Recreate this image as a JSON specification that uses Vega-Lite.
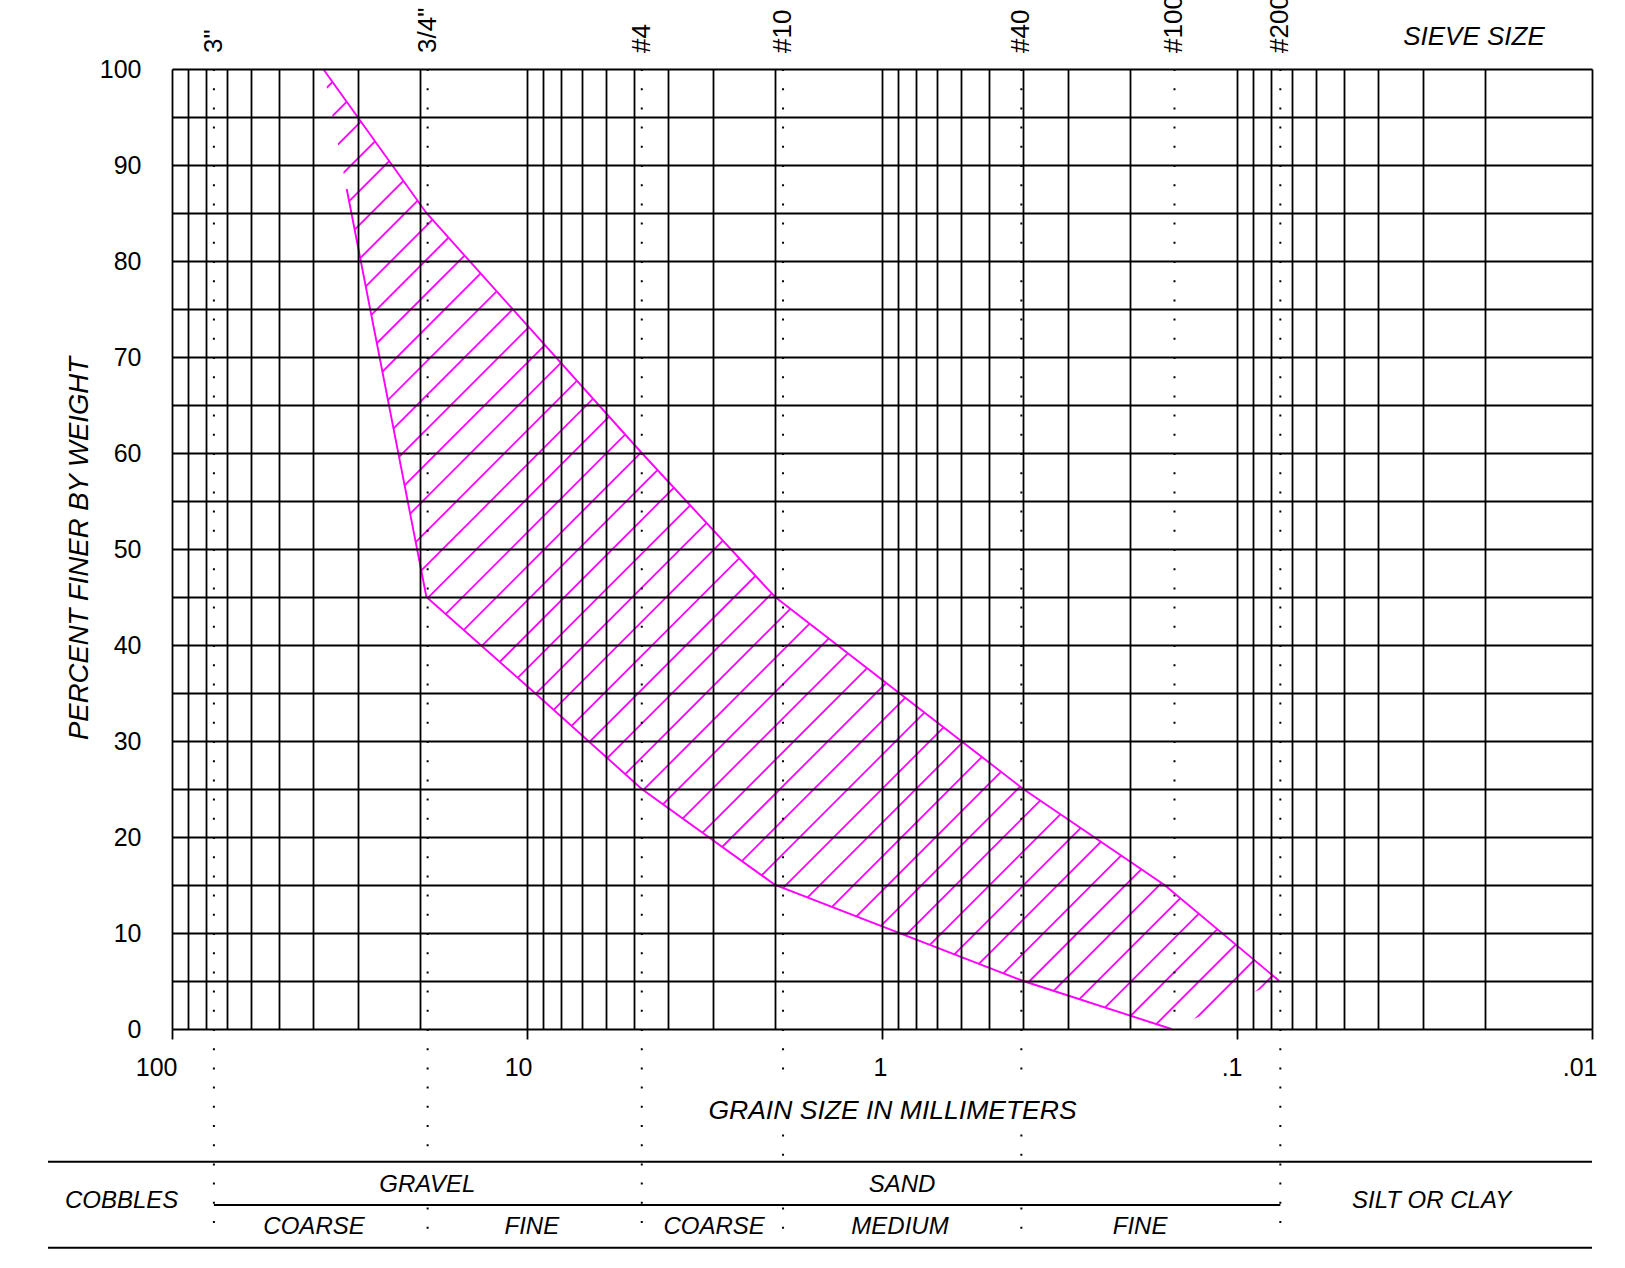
{
  "$schema": "https://vega.github.io/schema/vega-lite/v6.json",
  "width": 1420,
  "height": 960,
  "autosize": {"type": "none"},
  "padding": {"left": 172, "top": 69, "right": 33, "bottom": 239},
  "background": "white",
  "config": {"view": {"stroke": null}, "font": "Liberation Sans", "text": {"font": "Liberation Sans", "color": "#000"}},
  "datasets": {
    "hatch": [
      {"mm":100,"mm2":0.01,"p":81.93,"p2":229.85},{"mm":100,"mm2":0.01,"p":78.39,"p2":226.31},{"mm":100,"mm2":0.01,"p":74.85,"p2":222.77},{"mm":100,"mm2":0.01,"p":71.32,"p2":219.24},
      {"mm":100,"mm2":0.01,"p":67.78,"p2":215.70},{"mm":100,"mm2":0.01,"p":64.24,"p2":212.16},{"mm":100,"mm2":0.01,"p":60.70,"p2":208.62},{"mm":100,"mm2":0.01,"p":57.17,"p2":205.09},
      {"mm":100,"mm2":0.01,"p":53.63,"p2":201.55},{"mm":100,"mm2":0.01,"p":50.09,"p2":198.01},{"mm":100,"mm2":0.01,"p":46.55,"p2":194.47},{"mm":100,"mm2":0.01,"p":43.02,"p2":190.94},
      {"mm":100,"mm2":0.01,"p":39.48,"p2":187.40},{"mm":100,"mm2":0.01,"p":35.94,"p2":183.86},{"mm":100,"mm2":0.01,"p":32.40,"p2":180.32},{"mm":100,"mm2":0.01,"p":28.87,"p2":176.79},
      {"mm":100,"mm2":0.01,"p":25.33,"p2":173.25},{"mm":100,"mm2":0.01,"p":21.79,"p2":169.71},{"mm":100,"mm2":0.01,"p":18.25,"p2":166.17},{"mm":100,"mm2":0.01,"p":14.72,"p2":162.64},
      {"mm":100,"mm2":0.01,"p":11.18,"p2":159.10},{"mm":100,"mm2":0.01,"p":7.64,"p2":155.56},{"mm":100,"mm2":0.01,"p":4.10,"p2":152.02},{"mm":100,"mm2":0.01,"p":0.57,"p2":148.49},
      {"mm":100,"mm2":0.01,"p":-2.97,"p2":144.95},{"mm":100,"mm2":0.01,"p":-6.51,"p2":141.41},{"mm":100,"mm2":0.01,"p":-10.05,"p2":137.87},{"mm":100,"mm2":0.01,"p":-13.58,"p2":134.34},
      {"mm":100,"mm2":0.01,"p":-17.12,"p2":130.80},{"mm":100,"mm2":0.01,"p":-20.66,"p2":127.26},{"mm":100,"mm2":0.01,"p":-24.20,"p2":123.72},{"mm":100,"mm2":0.01,"p":-27.73,"p2":120.19},
      {"mm":100,"mm2":0.01,"p":-31.27,"p2":116.65},{"mm":100,"mm2":0.01,"p":-34.81,"p2":113.11},{"mm":100,"mm2":0.01,"p":-38.35,"p2":109.57},{"mm":100,"mm2":0.01,"p":-41.88,"p2":106.04},
      {"mm":100,"mm2":0.01,"p":-45.42,"p2":102.50},{"mm":100,"mm2":0.01,"p":-48.96,"p2":98.96},{"mm":100,"mm2":0.01,"p":-52.50,"p2":95.42},{"mm":100,"mm2":0.01,"p":-56.03,"p2":91.89},
      {"mm":100,"mm2":0.01,"p":-59.57,"p2":88.35},{"mm":100,"mm2":0.01,"p":-63.11,"p2":84.81},{"mm":100,"mm2":0.01,"p":-66.65,"p2":81.27},{"mm":100,"mm2":0.01,"p":-70.18,"p2":77.74},
      {"mm":100,"mm2":0.01,"p":-73.72,"p2":74.20},{"mm":100,"mm2":0.01,"p":-77.26,"p2":70.66},{"mm":100,"mm2":0.01,"p":-80.80,"p2":67.12},{"mm":100,"mm2":0.01,"p":-84.34,"p2":63.58},
      {"mm":100,"mm2":0.01,"p":-87.87,"p2":60.05},{"mm":100,"mm2":0.01,"p":-91.41,"p2":56.51},{"mm":100,"mm2":0.01,"p":-94.95,"p2":52.97},{"mm":100,"mm2":0.01,"p":-98.49,"p2":49.43},
      {"mm":100,"mm2":0.01,"p":-102.02,"p2":45.90},{"mm":100,"mm2":0.01,"p":-105.56,"p2":42.36},{"mm":100,"mm2":0.01,"p":-109.10,"p2":38.82}
    ],
    "lowerMask": [
      {"mm":100,"p":100,"p2":0},{"mm":37.5,"p":100,"p2":0},{"mm":19.2,"p":45,"p2":0},{"mm":9.5,"p":35,"p2":0},{"mm":4.75,"p":25,"p2":0},
      {"mm":2,"p":15,"p2":0},{"mm":0.4,"p":5,"p2":0},{"mm":0.153,"p":0,"p2":0},{"mm":0.076,"p":5,"p2":0}
    ],
    "upperMask": [
      {"mm":37.5,"p":100,"p2":100},{"mm":19.2,"p":85,"p2":100},{"mm":4.75,"p":60,"p2":100},{"mm":2,"p":45,"p2":100},{"mm":0.4,"p":25,"p2":100},
      {"mm":0.16,"p":15,"p2":100},{"mm":0.076,"p":5,"p2":100}
    ],
    "rightMask": [
      {"mm":0.0775,"mm2":0.01,"p":0,"p2":100}
    ],
    "upper": [
      {"mm":37.5,"p":100},{"mm":19.2,"p":85},{"mm":4.75,"p":60},{"mm":2,"p":45},{"mm":0.4,"p":25},
      {"mm":0.16,"p":15},{"mm":0.076,"p":5}
    ],
    "lower": [
      {"mm":32.2,"p":87.5},{"mm":19.2,"p":45},{"mm":9.5,"p":35},{"mm":4.75,"p":25},{"mm":2,"p":15},
      {"mm":0.4,"p":5},{"mm":0.153,"p":0}
    ],
    "sieveLines": [
      {"mm":76.2,"p":100,"p2":-20.8},
      {"mm":19.05,"p":100,"p2":-13.5},{"mm":19.05,"p":-18.6,"p2":-20.8},
      {"mm":4.75,"p":100,"p2":-20.8},
      {"mm":1.9,"p":100,"p2":-5.0},{"mm":1.9,"p":-11.0,"p2":-13.5},{"mm":1.9,"p":-18.6,"p2":-20.8},
      {"mm":0.405,"p":100,"p2":-5.0},{"mm":0.405,"p":-11.0,"p2":-13.5},{"mm":0.405,"p":-18.6,"p2":-20.8},
      {"mm":0.15,"p":100,"p2":0},
      {"mm":0.0755,"p":100,"p2":-20.8}
    ],
    "sieveLabels": [
      {"t":"3\"","mm":76.2,"p":101.67},{"t":"3/4\"","mm":19.05,"p":101.67},{"t":"#4","mm":4.75,"p":101.67},{"t":"#10","mm":1.9,"p":101.67},
      {"t":"#40","mm":0.405,"p":101.67},{"t":"#100","mm":0.15,"p":101.67},{"t":"#200","mm":0.0755,"p":101.67}
    ],
    "tableLines": [
      {"mm":223.5,"mm2":0.01,"p":-13.82},
      {"mm":76.2,"mm2":0.0755,"p":-18.33},
      {"mm":223.5,"mm2":0.01,"p":-22.78}
    ],
    "tableText": [
      {"t":"COBBLES","mm":138.7,"p":-17.96},
      {"t":"GRAVEL","mm":19.1,"p":-16.27},
      {"t":"SAND","mm":0.878,"p":-16.27},
      {"t":"SILT OR CLAY","mm":0.0283,"p":-17.96},
      {"t":"COARSE","mm":39.8,"p":-20.65},
      {"t":"FINE","mm":9.69,"p":-20.65},
      {"t":"COARSE","mm":2.97,"p":-20.65},
      {"t":"MEDIUM","mm":0.89,"p":-20.65},
      {"t":"FINE","mm":0.1875,"p":-20.65}
    ],
    "sieveTitle": [
      {"t":"SIEVE SIZE","mm":0.0215,"p":103.36}
    ]
  },
  "encoding": {
    "x": {
      "field": "mm", "type": "quantitative",
      "scale": {"type": "log", "domain": [0.01, 100], "reverse": true},
      "axis": {
        "values": [100,90,80,70,60,50,40,30,20,10,9,8,7,6,5,4,3,2,1,0.9,0.8,0.7,0.6,0.5,0.4,0.3,0.2,0.1,0.09,0.08,0.07,0.06,0.05,0.04,0.03,0.02,0.01],
        "grid": true, "gridColor": "#000", "gridWidth": 1.8, "gridOpacity": 1,
        "domain": false,
        "ticks": true, "tickSize": 10, "tickWidth": 1.8, "tickColor": "#000",
        "tickOpacity": {"condition": {"test": "datum.value == 100 || datum.value == 10 || datum.value == 1 || datum.value == 0.1 || datum.value == 0.01", "value": 1}, "value": 0},
        "labelExpr": "datum.value == 100 ? '100' : datum.value == 10 ? '10' : datum.value == 1 ? '1' : datum.value == 0.1 ? '.1' : datum.value == 0.01 ? '.01' : ''",
        "labelFont": "Liberation Sans", "labelFontSize": 25, "labelColor": "#000",
        "labelAlign": "right", "labelOffset": 5, "labelBaseline": "top", "labelPadding": 16,
        "labelOverlap": false, "labelFlush": false, "labelBound": false,
        "title": "GRAIN SIZE IN MILLIMETERS",
        "titleFont": "Liberation Sans", "titleFontSize": 26.5, "titleFontStyle": "italic", "titleFontWeight": "normal", "titleColor": "#000",
        "titleX": 720, "titleY": 81, "titleAlign": "center", "titleBaseline": "middle",
        "zindex": 1
      }
    },
    "y": {
      "field": "p", "type": "quantitative",
      "scale": {"domain": [0, 100], "nice": false},
      "axis": {
        "values": [0,5,10,15,20,25,30,35,40,45,50,55,60,65,70,75,80,85,90,95,100],
        "grid": true, "gridColor": "#000", "gridWidth": 1.8, "gridOpacity": 1,
        "domain": false, "ticks": false,
        "labelExpr": "datum.value % 10 == 0 ? datum.label : ''",
        "labelFont": "Liberation Sans", "labelFontSize": 25, "labelColor": "#000", "labelPadding": 31,
        "labelOverlap": false, "labelFlush": false, "labelBound": false,
        "title": "PERCENT FINER BY WEIGHT",
        "titleFont": "Liberation Sans", "titleFontSize": 27.5, "titleFontStyle": "italic", "titleFontWeight": "normal", "titleColor": "#000",
        "titleX": -93, "titleY": 479, "titleAlign": "center", "titleBaseline": "middle", "titleAngle": 270,
        "zindex": 1
      }
    }
  },
  "layer": [
    {
      "data": {"name": "hatch"},
      "mark": {"type": "rule", "clip": true, "color": "#ff00ff", "strokeWidth": 1.8},
      "encoding": {"x2": {"field": "mm2"}, "y2": {"field": "p2"}}
    },
    {
      "data": {"name": "lowerMask"},
      "mark": {"type": "area", "color": "white", "opacity": 1},
      "encoding": {"y2": {"field": "p2"}}
    },
    {
      "data": {"name": "upperMask"},
      "mark": {"type": "area", "color": "white", "opacity": 1},
      "encoding": {"y2": {"field": "p2"}}
    },
    {
      "data": {"name": "rightMask"},
      "mark": {"type": "rect", "color": "white", "opacity": 1},
      "encoding": {"x2": {"field": "mm2"}, "y2": {"field": "p2"}}
    },
    {
      "data": {"name": "sieveLines"},
      "mark": {"type": "rule", "color": "#000", "strokeWidth": 2, "strokeDash": [2, 17.2], "strokeCap": "butt"},
      "encoding": {"y2": {"field": "p2"}}
    },
    {
      "data": {"name": "upper"},
      "mark": {"type": "line", "color": "#ff00ff", "strokeWidth": 1.9}
    },
    {
      "data": {"name": "lower"},
      "mark": {"type": "line", "color": "#ff00ff", "strokeWidth": 1.9}
    },
    {
      "data": {"name": "tableLines"},
      "mark": {"type": "rule", "color": "#000", "strokeWidth": 2},
      "encoding": {"x2": {"field": "mm2"}}
    },
    {
      "data": {"name": "sieveLabels"},
      "mark": {"type": "text", "angle": 270, "align": "left", "baseline": "middle", "fontSize": 26, "font": "Liberation Sans", "color": "#000"},
      "encoding": {"text": {"field": "t"}}
    },
    {
      "data": {"name": "tableText"},
      "mark": {"type": "text", "align": "center", "baseline": "middle", "fontSize": 24, "fontStyle": "italic", "font": "Liberation Sans", "color": "#000"},
      "encoding": {"text": {"field": "t"}}
    },
    {
      "data": {"name": "sieveTitle"},
      "mark": {"type": "text", "align": "center", "baseline": "middle", "fontSize": 26, "fontStyle": "italic", "font": "Liberation Sans", "color": "#000"},
      "encoding": {"text": {"field": "t"}}
    }
  ]
}
